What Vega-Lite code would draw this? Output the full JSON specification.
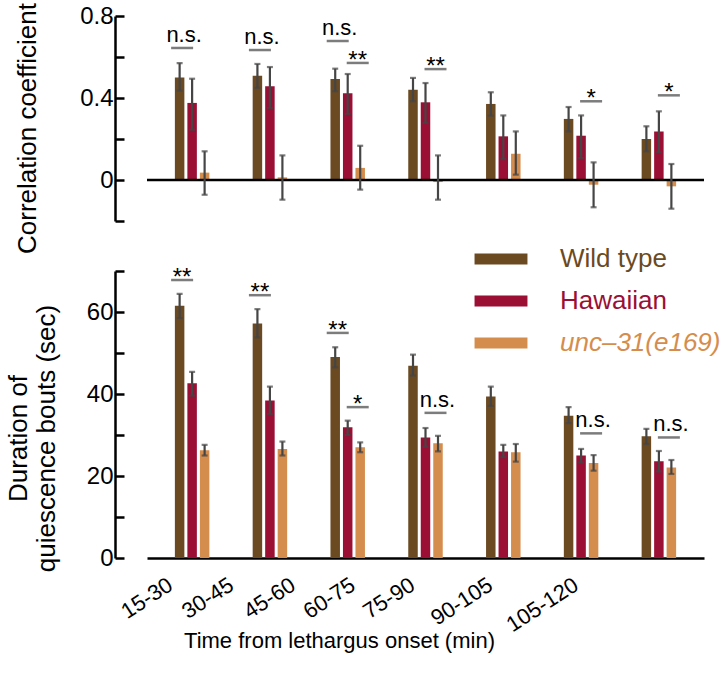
{
  "$schema": "https://vega.github.io/schema/vega-lite/v6.json",
  "padding": {"left": 5, "top": 2, "right": 5, "bottom": 5},
  "bounds": "flush",
  "spacing": 50,
  "config": {
    "view": {"stroke": null},
    "font": "Liberation Sans",
    "axis": {"labelFont": "Liberation Sans", "titleFont": "Liberation Sans", "labelColor": "black", "titleColor": "black", "domainColor": "black", "tickColor": "black", "titleFontWeight": "normal", "grid": false},
    "legend": {"labelFont": "Liberation Sans"}
  },
  "datasets": {
    "corr": [
      {"interval": "15-30", "series": "Wild type", "value": 0.50, "lo": 0.436, "hi": 0.57},
      {"interval": "15-30", "series": "Hawaiian", "value": 0.376, "lo": 0.245, "hi": 0.494},
      {"interval": "15-30", "series": "unc–31(e169)", "value": 0.036, "lo": -0.072, "hi": 0.14},
      {"interval": "30-45", "series": "Wild type", "value": 0.509, "lo": 0.449, "hi": 0.566},
      {"interval": "30-45", "series": "Hawaiian", "value": 0.457, "lo": 0.351, "hi": 0.551},
      {"interval": "30-45", "series": "unc–31(e169)", "value": 0.013, "lo": -0.096, "hi": 0.12},
      {"interval": "45-60", "series": "Wild type", "value": 0.493, "lo": 0.433, "hi": 0.543},
      {"interval": "45-60", "series": "Hawaiian", "value": 0.423, "lo": 0.322, "hi": 0.517},
      {"interval": "45-60", "series": "unc–31(e169)", "value": 0.059, "lo": -0.047, "hi": 0.167},
      {"interval": "60-75", "series": "Wild type", "value": 0.44, "lo": 0.384, "hi": 0.498},
      {"interval": "60-75", "series": "Hawaiian", "value": 0.379, "lo": 0.278, "hi": 0.473},
      {"interval": "60-75", "series": "unc–31(e169)", "value": -0.01, "lo": -0.096, "hi": 0.12},
      {"interval": "75-90", "series": "Wild type", "value": 0.371, "lo": 0.314, "hi": 0.428},
      {"interval": "75-90", "series": "Hawaiian", "value": 0.213, "lo": 0.102, "hi": 0.315},
      {"interval": "75-90", "series": "unc–31(e169)", "value": 0.128, "lo": 0.026, "hi": 0.237},
      {"interval": "90-105", "series": "Wild type", "value": 0.298, "lo": 0.237, "hi": 0.356},
      {"interval": "90-105", "series": "Hawaiian", "value": 0.216, "lo": 0.107, "hi": 0.315},
      {"interval": "90-105", "series": "unc–31(e169)", "value": -0.023, "lo": -0.133, "hi": 0.086},
      {"interval": "105-120", "series": "Wild type", "value": 0.2, "lo": 0.14, "hi": 0.262},
      {"interval": "105-120", "series": "Hawaiian", "value": 0.237, "lo": 0.135, "hi": 0.335},
      {"interval": "105-120", "series": "unc–31(e169)", "value": -0.031, "lo": -0.14, "hi": 0.078}
    ],
    "corrSig": [
      {"interval": "15-30", "comparison": "Wild type vs Hawaiian", "y": 0.644, "label": "n.s."},
      {"interval": "30-45", "comparison": "Wild type vs Hawaiian", "y": 0.634, "label": "n.s."},
      {"interval": "45-60", "comparison": "Wild type vs Hawaiian", "y": 0.678, "label": "n.s."},
      {"interval": "45-60", "comparison": "Hawaiian vs unc–31(e169)", "y": 0.571, "label": "**"},
      {"interval": "60-75", "comparison": "Hawaiian vs unc–31(e169)", "y": 0.541, "label": "**"},
      {"interval": "90-105", "comparison": "Hawaiian vs unc–31(e169)", "y": 0.384, "label": "*"},
      {"interval": "105-120", "comparison": "Hawaiian vs unc–31(e169)", "y": 0.413, "label": "*"}
    ],
    "dur": [
      {"interval": "15-30", "series": "Wild type", "value": 61.5, "lo": 58.5, "hi": 64.4},
      {"interval": "15-30", "series": "Hawaiian", "value": 42.6, "lo": 39.6, "hi": 45.4},
      {"interval": "15-30", "series": "unc–31(e169)", "value": 26.3, "lo": 25.0, "hi": 27.6},
      {"interval": "30-45", "series": "Wild type", "value": 57.2, "lo": 53.8, "hi": 60.7},
      {"interval": "30-45", "series": "Hawaiian", "value": 38.4, "lo": 35.1, "hi": 41.8},
      {"interval": "30-45", "series": "unc–31(e169)", "value": 26.6, "lo": 25.0, "hi": 28.4},
      {"interval": "45-60", "series": "Wild type", "value": 49.0, "lo": 46.5, "hi": 51.4},
      {"interval": "45-60", "series": "Hawaiian", "value": 31.9, "lo": 30.0, "hi": 33.5},
      {"interval": "45-60", "series": "unc–31(e169)", "value": 27.0, "lo": 25.8, "hi": 28.2},
      {"interval": "60-75", "series": "Wild type", "value": 46.9, "lo": 44.5, "hi": 49.6},
      {"interval": "60-75", "series": "Hawaiian", "value": 29.4, "lo": 27.1, "hi": 31.7},
      {"interval": "60-75", "series": "unc–31(e169)", "value": 28.0, "lo": 26.0, "hi": 29.8},
      {"interval": "75-90", "series": "Wild type", "value": 39.4, "lo": 37.1, "hi": 41.8},
      {"interval": "75-90", "series": "Hawaiian", "value": 26.0, "lo": 24.6, "hi": 27.6},
      {"interval": "75-90", "series": "unc–31(e169)", "value": 25.8, "lo": 23.5, "hi": 27.8},
      {"interval": "90-105", "series": "Wild type", "value": 34.7, "lo": 32.9, "hi": 36.8},
      {"interval": "90-105", "series": "Hawaiian", "value": 25.0, "lo": 23.3, "hi": 26.6},
      {"interval": "90-105", "series": "unc–31(e169)", "value": 23.2, "lo": 21.3, "hi": 25.1},
      {"interval": "105-120", "series": "Wild type", "value": 29.7, "lo": 27.8, "hi": 31.5},
      {"interval": "105-120", "series": "Hawaiian", "value": 23.6, "lo": 21.1, "hi": 26.1},
      {"interval": "105-120", "series": "unc–31(e169)", "value": 22.1, "lo": 20.5, "hi": 23.9}
    ],
    "durSig": [
      {"interval": "15-30", "comparison": "Wild type vs Hawaiian", "y": 67.8, "label": "**"},
      {"interval": "30-45", "comparison": "Wild type vs Hawaiian", "y": 64.1, "label": "**"},
      {"interval": "45-60", "comparison": "Wild type vs Hawaiian", "y": 54.9, "label": "**"},
      {"interval": "45-60", "comparison": "Hawaiian vs unc–31(e169)", "y": 36.8, "label": "*"},
      {"interval": "60-75", "comparison": "Hawaiian vs unc–31(e169)", "y": 35.4, "label": "n.s."},
      {"interval": "90-105", "comparison": "Hawaiian vs unc–31(e169)", "y": 30.4, "label": "n.s."},
      {"interval": "105-120", "comparison": "Hawaiian vs unc–31(e169)", "y": 29.4, "label": "n.s."}
    ]
  },
  "resolve": {"scale": {"y": "independent", "color": "independent"}},
  "vconcat": [
    {
      "width": 557,
      "height": 205,
      "encoding": {
        "x": {"field": "interval", "type": "nominal", "sort": ["15-30", "30-45", "45-60", "60-75", "75-90", "90-105", "105-120"], "scale": {"paddingInner": 0.486, "paddingOuter": 0.323}, "axis": null}
      },
      "layer": [
        {
          "data": {"name": "corr"},
          "mark": {"type": "bar"},
          "encoding": {
            "xOffset": {"field": "series", "type": "nominal", "sort": ["Wild type", "Hawaiian", "unc–31(e169)"], "scale": {"paddingInner": 0.24, "paddingOuter": 0.22}},
            "y": {"field": "value", "type": "quantitative", "scale": {"domain": [-0.2, 0.8], "nice": false, "zero": false},
              "axis": {"title": "Correlation coefficient", "values": [-0.2, 0, 0.2, 0.4, 0.6, 0.8], "labelExpr": "abs(datum.value) < 0.001 ? '0' : (abs(datum.value - 0.4) < 0.001 ? '0.4' : (abs(datum.value - 0.8) < 0.001 ? '0.8' : ''))", "offset": 32, "tickSize": -9, "tickWidth": 2.5, "domainWidth": 2.5, "labelFontSize": 24, "labelPadding": 11, "titleFontSize": 26, "titlePadding": 39, "titleY": 112}},
            "color": {"field": "series", "type": "nominal", "sort": ["Wild type", "Hawaiian", "unc–31(e169)"], "scale": {"domain": ["Wild type", "Hawaiian", "unc–31(e169)"], "range": ["#6B4A22", "#9B0F35", "#D58D4D"]}, "legend": null}
          }
        },
        {
          "data": {"values": [{"baseline": 0}]},
          "mark": {"type": "rule", "color": "black", "strokeWidth": 2.5},
          "encoding": {"x": null, "y": {"field": "baseline", "type": "quantitative"}}
        },
        {
          "data": {"name": "corr"},
          "mark": {"type": "rule", "color": "#454545", "strokeWidth": 2.2},
          "encoding": {"xOffset": {"field": "series", "type": "nominal", "sort": ["Wild type", "Hawaiian", "unc–31(e169)"]}, "y": {"field": "lo", "type": "quantitative"}, "y2": {"field": "hi"}}
        },
        {
          "data": {"name": "corr"},
          "mark": {"type": "tick", "orient": "horizontal", "size": 6, "thickness": 2.2, "color": "#454545"},
          "encoding": {"xOffset": {"field": "series", "type": "nominal", "sort": ["Wild type", "Hawaiian", "unc–31(e169)"]}, "y": {"field": "lo", "type": "quantitative"}}
        },
        {
          "data": {"name": "corr"},
          "mark": {"type": "tick", "orient": "horizontal", "size": 6, "thickness": 2.2, "color": "#454545"},
          "encoding": {"xOffset": {"field": "series", "type": "nominal", "sort": ["Wild type", "Hawaiian", "unc–31(e169)"]}, "y": {"field": "hi", "type": "quantitative"}}
        },
        {
          "data": {"name": "corrSig"},
          "transform": [{"filter": "datum.comparison == 'Wild type vs Hawaiian'"}],
          "mark": {"type": "tick", "orient": "horizontal", "size": 22, "thickness": 2.5, "color": "#454545", "xOffset": -10},
          "encoding": {"y": {"field": "y", "type": "quantitative"}}
        },
        {
          "data": {"name": "corrSig"},
          "transform": [{"filter": "datum.comparison == 'Hawaiian vs unc–31(e169)'"}],
          "mark": {"type": "tick", "orient": "horizontal", "size": 22, "thickness": 2.5, "color": "#454545", "xOffset": 10},
          "encoding": {"y": {"field": "y", "type": "quantitative"}}
        },
        {
          "data": {"name": "corrSig"},
          "transform": [{"filter": "datum.comparison == 'Wild type vs Hawaiian'"}],
          "mark": {"type": "text", "fontSize": 22, "baseline": "alphabetic", "dy": -6, "xOffset": -8, "color": "black"},
          "encoding": {"y": {"field": "y", "type": "quantitative"}, "text": {"field": "label"}}
        },
        {
          "data": {"name": "corrSig"},
          "transform": [{"filter": "datum.comparison == 'Hawaiian vs unc–31(e169)'"}],
          "mark": {"type": "text", "fontSize": 24, "baseline": "alphabetic", "dy": 5, "xOffset": 10, "color": "black"},
          "encoding": {"y": {"field": "y", "type": "quantitative"}, "text": {"field": "label"}}
        }
      ]
    },
    {
      "width": 557,
      "height": 287,
      "encoding": {
        "x": {"field": "interval", "type": "nominal", "sort": ["15-30", "30-45", "45-60", "60-75", "75-90", "90-105", "105-120"], "scale": {"paddingInner": 0.486, "paddingOuter": 0.323},
          "axis": {"title": "Time from lethargus onset (min)", "titleFontSize": 22, "titleX": 192, "titleY": 89, "titleBaseline": "alphabetic", "labelAngle": -33, "labelFontSize": 22, "ticks": false, "domainWidth": 2.5, "labelPadding": 16,
            "labelOffset": {"expr": "[-27, -44, -60, -78, -96, -96, -88][indexof(['15-30', '30-45', '45-60', '60-75', '75-90', '90-105', '105-120'], datum.value)]"}}}
      },
      "layer": [
        {
          "data": {"name": "dur"},
          "mark": {"type": "bar"},
          "encoding": {
            "xOffset": {"field": "series", "type": "nominal", "sort": ["Wild type", "Hawaiian", "unc–31(e169)"], "scale": {"paddingInner": 0.24, "paddingOuter": 0.22}},
            "y": {"field": "value", "type": "quantitative", "scale": {"domain": [0, 70], "nice": false},
              "axis": {"title": ["Duration of", "quiescence bouts (sec)"], "values": [0, 10, 20, 30, 40, 50, 60, 70], "labelExpr": "datum.value % 20 == 0 ? datum.label : ''", "offset": 32, "tickSize": -9, "tickWidth": 2.5, "domainWidth": 2.5, "labelFontSize": 24, "labelPadding": 11, "titleFontSize": 26, "titleLineHeight": 28, "titlePadding": 27, "titleY": 167}},
            "color": {"field": "series", "type": "nominal", "sort": ["Wild type", "Hawaiian", "unc–31(e169)"], "scale": {"domain": ["Wild type", "Hawaiian", "unc–31(e169)"], "range": ["#6B4A22", "#9B0F35", "#D58D4D"]},
              "legend": {"orient": "none", "legendX": 336, "legendY": -30, "title": null, "padding": 0, "symbolType": "M-1.47,-0.3H1.47V0.3H-1.47Z", "symbolSize": 1296, "symbolStrokeWidth": 0, "labelFontSize": 26, "labelOffset": 41, "rowPadding": 11, "labelLimit": 300,
                "encode": {"labels": {"update": {"fill": {"signal": "datum.value === 'Wild type' ? '#6B4A22' : (datum.value === 'Hawaiian' ? '#9B0F35' : '#D58D4D')"}, "fontStyle": {"signal": "datum.value === 'Wild type' || datum.value === 'Hawaiian' ? 'normal' : 'italic'"}}}}}}
          }
        },
        {
          "data": {"name": "dur"},
          "mark": {"type": "rule", "color": "#454545", "strokeWidth": 2.2},
          "encoding": {"xOffset": {"field": "series", "type": "nominal", "sort": ["Wild type", "Hawaiian", "unc–31(e169)"]}, "y": {"field": "lo", "type": "quantitative"}, "y2": {"field": "hi"}}
        },
        {
          "data": {"name": "dur"},
          "mark": {"type": "tick", "orient": "horizontal", "size": 6, "thickness": 2.2, "color": "#454545"},
          "encoding": {"xOffset": {"field": "series", "type": "nominal", "sort": ["Wild type", "Hawaiian", "unc–31(e169)"]}, "y": {"field": "lo", "type": "quantitative"}}
        },
        {
          "data": {"name": "dur"},
          "mark": {"type": "tick", "orient": "horizontal", "size": 6, "thickness": 2.2, "color": "#454545"},
          "encoding": {"xOffset": {"field": "series", "type": "nominal", "sort": ["Wild type", "Hawaiian", "unc–31(e169)"]}, "y": {"field": "hi", "type": "quantitative"}}
        },
        {
          "data": {"name": "durSig"},
          "transform": [{"filter": "datum.comparison == 'Wild type vs Hawaiian'"}],
          "mark": {"type": "tick", "orient": "horizontal", "size": 22, "thickness": 2.5, "color": "#454545", "xOffset": -10},
          "encoding": {"y": {"field": "y", "type": "quantitative"}}
        },
        {
          "data": {"name": "durSig"},
          "transform": [{"filter": "datum.comparison == 'Hawaiian vs unc–31(e169)'"}],
          "mark": {"type": "tick", "orient": "horizontal", "size": 22, "thickness": 2.5, "color": "#454545", "xOffset": 10},
          "encoding": {"y": {"field": "y", "type": "quantitative"}}
        },
        {
          "data": {"name": "durSig"},
          "transform": [{"filter": "datum.comparison == 'Wild type vs Hawaiian'"}],
          "mark": {"type": "text", "fontSize": 24, "baseline": "alphabetic", "dy": 5, "xOffset": -10, "color": "black"},
          "encoding": {"y": {"field": "y", "type": "quantitative"}, "text": {"field": "label"}}
        },
        {
          "data": {"name": "durSig"},
          "transform": [{"filter": "datum.comparison == 'Hawaiian vs unc–31(e169)' && datum.label != 'n.s.'"}],
          "mark": {"type": "text", "fontSize": 24, "baseline": "alphabetic", "dy": 5, "xOffset": 10, "color": "black"},
          "encoding": {"y": {"field": "y", "type": "quantitative"}, "text": {"field": "label"}}
        },
        {
          "data": {"name": "durSig"},
          "transform": [{"filter": "datum.comparison == 'Hawaiian vs unc–31(e169)' && datum.label == 'n.s.'"}],
          "mark": {"type": "text", "fontSize": 22, "baseline": "alphabetic", "dy": -6, "xOffset": 12, "color": "black"},
          "encoding": {"y": {"field": "y", "type": "quantitative"}, "text": {"field": "label"}}
        }
      ]
    }
  ]
}
